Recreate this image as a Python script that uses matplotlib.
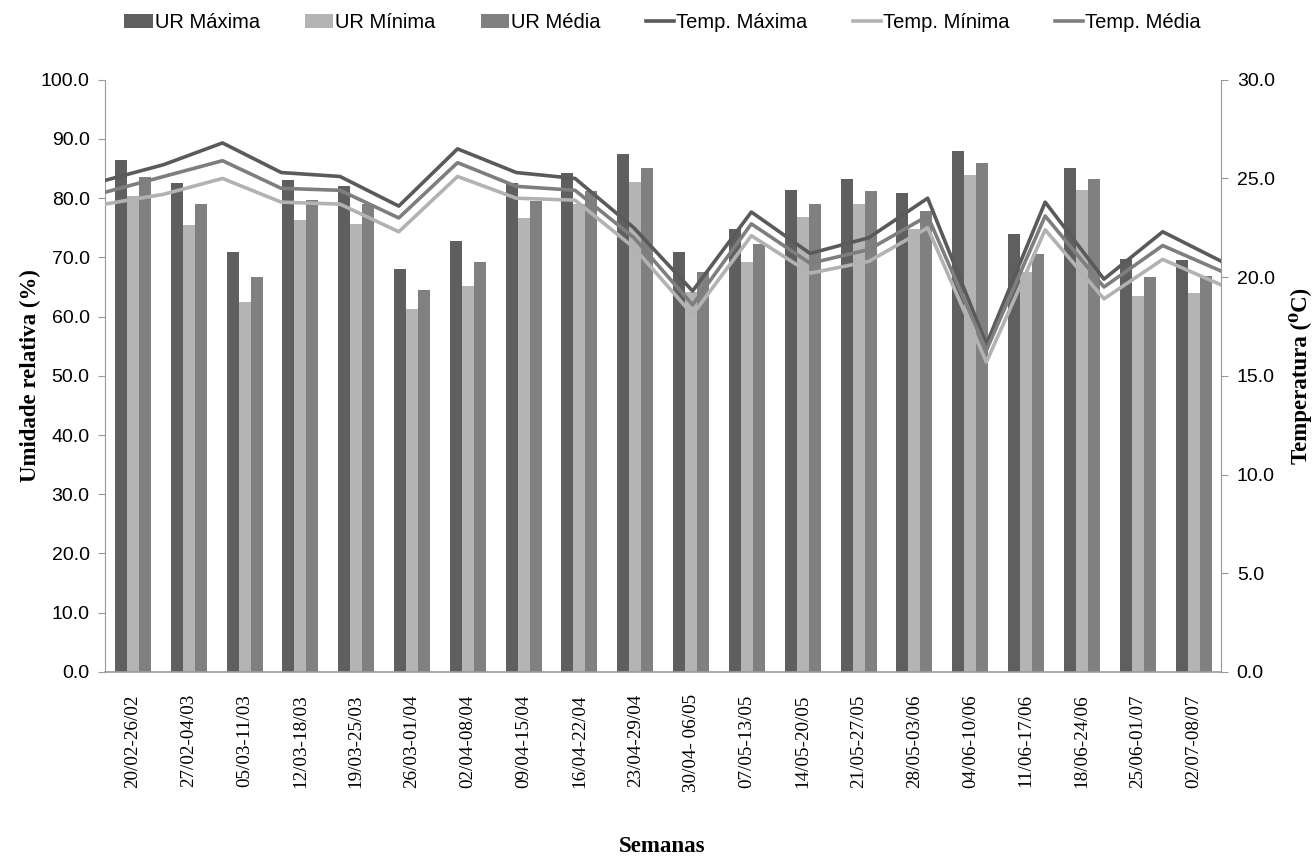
import matplotlib
matplotlib.use("Agg")
import matplotlib.pyplot as plt
import numpy as np

weeks = ["20/02-26/02", "27/02-04/03", "05/03-11/03", "12/03-18/03", "19/03-25/03",
         "26/03-01/04", "02/04-08/04", "09/04-15/04", "16/04-22/04", "23/04-29/04",
         "30/04- 06/05", "07/05-13/05", "14/05-20/05", "21/05-27/05", "28/05-03/06",
         "04/06-10/06", "11/06-17/06", "18/06-24/06", "25/06-01/07", "02/07-08/07"]

ur_max = [86.4, 82.5, 70.9, 83.0, 82.1, 68.0, 72.7, 82.6, 84.2, 87.4,
          70.9, 74.8, 81.4, 83.3, 80.9, 87.9, 73.9, 85.1, 69.8, 69.6]
ur_min = [80.3, 75.5, 62.4, 76.4, 75.7, 61.3, 65.1, 76.7, 79.0, 82.8,
          64.1, 69.2, 76.9, 79.1, 74.8, 84.0, 67.5, 81.3, 63.4, 64.0]
ur_med = [83.5, 79.1, 66.7, 79.7, 79.1, 64.5, 69.2, 79.6, 81.2, 85.1,
          67.5, 72.2, 79.1, 81.2, 77.9, 86.0, 70.6, 83.3, 66.7, 66.9]

t_max = [24.9, 25.7, 26.8, 25.3, 25.1, 23.6, 26.5, 25.3, 25.0, 22.5,
         19.3, 23.3, 21.2, 22.0, 24.0, 16.6, 23.8, 19.9, 22.3, 20.8]
t_min = [23.7, 24.2, 25.0, 23.8, 23.7, 22.3, 25.1, 24.0, 23.9, 21.5,
         18.1, 22.1, 20.2, 20.8, 22.5, 15.7, 22.4, 18.9, 20.9, 19.6]
t_med = [24.3, 25.1, 25.9, 24.5, 24.4, 23.0, 25.8, 24.6, 24.4, 22.0,
         18.6, 22.7, 20.7, 21.4, 23.1, 16.3, 23.1, 19.5, 21.6, 20.3]

c_max_bar = "#5f5f5f"
c_min_bar = "#b4b4b4"
c_med_bar = "#808080"
c_tmax = "#5a5a5a"
c_tmin = "#b2b2b2"
c_tmed = "#7e7e7e"
axis_col = "#9a9a9a"

fig = plt.figure(figsize=(13.12, 8.67), dpi=100)
ax = fig.add_axes([0.080, 0.225, 0.851, 0.683])

n = len(weeks)
x = np.arange(n)
w = 0.215
b1 = ax.bar(x - w, ur_max, w, color=c_max_bar, label="UR Máxima", zorder=2)
b2 = ax.bar(x, ur_min, w, color=c_min_bar, label="UR Mínima", zorder=2)
b3 = ax.bar(x + w, ur_med, w, color=c_med_bar, label="UR Média", zorder=2)

ax.set_xlim(-0.5, n - 0.5)
ax.set_ylim(0, 100)
ax.set_yticks(np.arange(0, 101, 10))
ax.set_yticklabels([f"{v:.1f}" for v in np.arange(0, 101, 10)],
                   family="Liberation Sans", fontsize=14)
ax.set_xticks(x)
ax.set_xticklabels(weeks, rotation=90, family="Liberation Serif", fontsize=13.8)
ax.tick_params(axis="x", length=0, pad=16)
ax.tick_params(axis="y", length=5, color=axis_col, direction="out", pad=6)
for s in ["top", "right"]:
    ax.spines[s].set_visible(False)
ax.spines["left"].set_color(axis_col)
ax.spines["bottom"].set_color(axis_col)
ax.spines["bottom"].set_linewidth(1.2)
ax.set_ylabel("Umidade relativa (%)", family="Liberation Serif", fontweight="bold",
              fontsize=16.5, labelpad=0)

ax2 = ax.twinx()
ax2.set_ylim(0, 30)
ax2.set_yticks(np.arange(0, 31, 5))
ax2.set_yticklabels([f"{v:.1f}" for v in np.arange(0, 31, 5)],
                    family="Liberation Sans", fontsize=14)
ax2.tick_params(axis="y", length=5, color=axis_col, direction="out", pad=6)
for s in ["top", "left", "bottom"]:
    ax2.spines[s].set_visible(False)
ax2.spines["right"].set_color(axis_col)
ax2.set_ylabel("Temperatura (\u2070C)", family=["Liberation Serif", "DejaVu Serif"],
               fontweight="bold", fontsize=16.5, labelpad=10)

ax3 = ax2.twiny()
ax3.set_xlim(0, n - 1)
ax3.set_ylim(0, 30)
ax3.axis("off")
xl = np.arange(n)
l1, = ax3.plot(xl, t_max, color=c_tmax, lw=2.6, label="Temp. Máxima", zorder=3)
l2, = ax3.plot(xl, t_min, color=c_tmin, lw=2.6, label="Temp. Mínima", zorder=3)
l3, = ax3.plot(xl, t_med, color=c_tmed, lw=2.6, label="Temp. Média", zorder=3)

fig.legend([b1, b2, b3, l1, l2, l3],
           ["UR Máxima", "UR Mínima", "UR Média", "Temp. Máxima", "Temp. Mínima", "Temp. Média"],
           loc="center", bbox_to_anchor=(0.505, 0.974), ncol=6, frameon=False,
           prop={"family": "Liberation Sans", "size": 14.5},
           handlelength=1.4, handletextpad=0.1, columnspacing=2.25)

fig.text(0.505, 0.012, "Semanas", ha="center", va="bottom",
         family="Liberation Serif", fontweight="bold", fontsize=16.5)

fig.savefig("out.png", dpi=100)
